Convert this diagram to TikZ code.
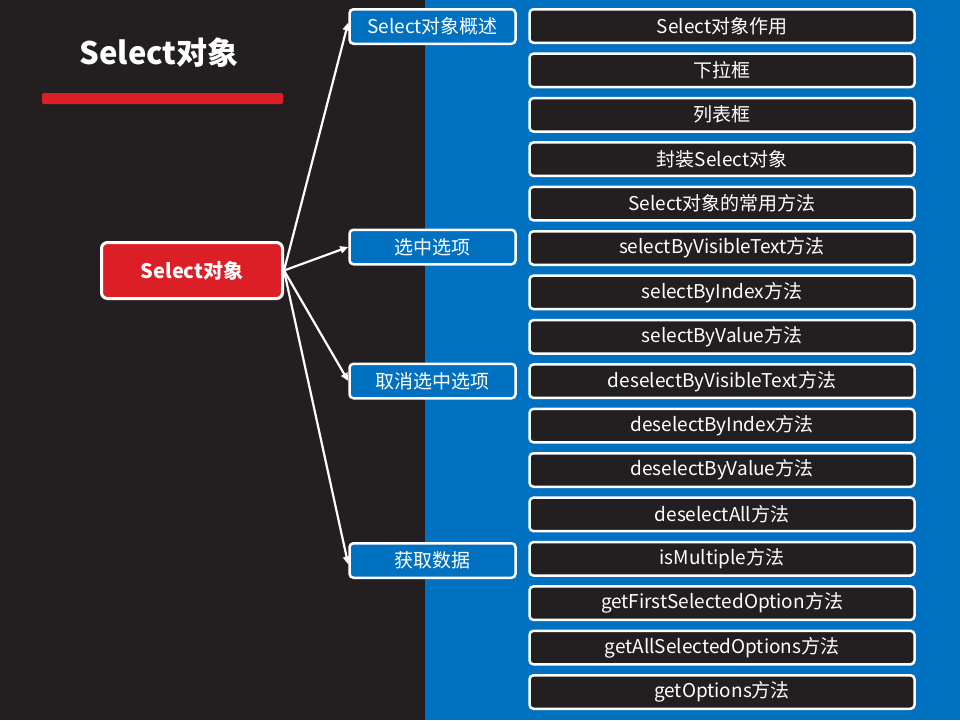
\documentclass[tikz,border=0pt]{standalone}
\usepackage{fontspec}
\setmainfont{Noto Sans CJK SC}
\usetikzlibrary{arrows.meta}
\definecolor{bgdark}{HTML}{231F20}
\definecolor{bgblue}{HTML}{0070C0}
\definecolor{topred}{HTML}{DC1E26}

\begin{document}
\begin{tikzpicture}[x=1pt, y=-1pt,
    root/.style={draw=white, line width=3pt, rounded corners=6pt, fill=topred, minimum width=181pt, minimum height=56pt, text=white, font=\fontsize{20}{24}\selectfont\bfseries},
    sect/.style={draw=white, line width=2.5pt, rounded corners=4pt, fill=bgblue, minimum width=166pt, minimum height=34.5pt, inner sep=0pt, text=white, font=\fontsize{19}{22}\selectfont},
    item/.style={draw=white, line width=2.5pt, rounded corners=4pt, fill=bgdark, minimum width=385pt, minimum height=33.5pt, inner sep=0pt, text=white, font=\fontsize{19}{22}\selectfont},
    arr/.style={-{Triangle[length=8pt, width=7pt]}, white, line width=2.2pt}
]
\useasboundingbox (0,0) rectangle (960,720);
\fill[bgdark] (0,0) rectangle (960,720);
\fill[bgblue] (425,0) rectangle (960,720);

% title
\node[text=white, font=\fontsize{31}{36}\selectfont\bfseries] (title) at (159,53) {Select对象};
\fill[topred, rounded corners=1.5pt] (42,93) rectangle (283,104);

\node[root] (obj) at (192,270.5) {Select对象};

\node[sect] (intro) at (432.5,26.5) {Select对象概述};
\node[sect] (pick) at (432.5,247) {选中选项};
\node[sect] (unpick) at (432.5,381) {取消选中选项};
\node[sect] (fetch) at (432.5,560.5) {获取数据};

\node[item] (i1) at (722,26) {Select对象作用};
\node[item] (i2) at (722,70.4) {下拉框};
\node[item] (i3) at (722,114.8) {列表框};
\node[item] (i4) at (722,159.2) {封装Select对象};
\node[item] (i5) at (722,203.6) {Select对象的常用方法};
\node[item] (i6) at (722,248) {selectByVisibleText方法};
\node[item] (i7) at (722,292.4) {selectByIndex方法};
\node[item] (i8) at (722,336.8) {selectByValue方法};
\node[item] (i9) at (722,381.2) {deselectByVisibleText方法};
\node[item] (i10) at (722,425.6) {deselectByIndex方法};
\node[item] (i11) at (722,470) {deselectByValue方法};
\node[item] (i12) at (722,514.4) {deselectAll方法};
\node[item] (i13) at (722,558.8) {isMultiple方法};
\node[item] (i14) at (722,603.2) {getFirstSelectedOption方法};
\node[item] (i15) at (722,647.6) {getAllSelectedOptions方法};
\node[item] (i16) at (722,692) {getOptions方法};

\draw[arr] (obj.east) -- ([yshift=4pt]intro.west);
\draw[arr] (obj.east) -- (pick.west);
\draw[arr] (obj.east) -- (unpick.west);
\draw[arr] (obj.east) -- ([yshift=-4pt]fetch.west);
\end{tikzpicture}
\end{document}
